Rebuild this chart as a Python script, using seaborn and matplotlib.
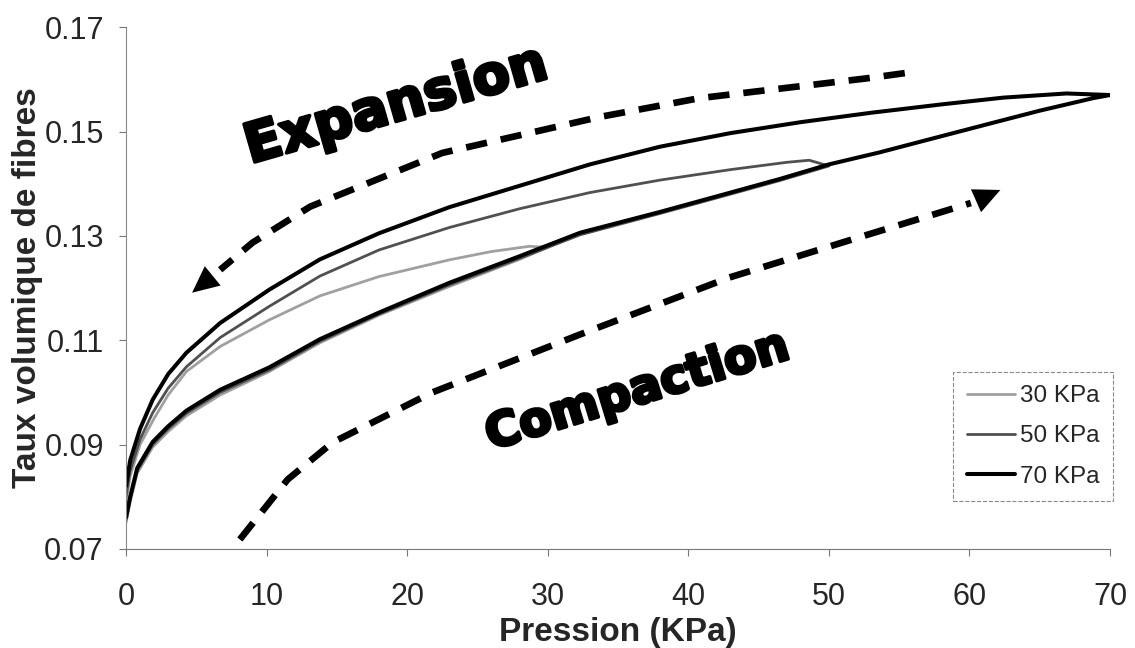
import matplotlib
matplotlib.use("Agg")
import matplotlib.pyplot as plt
import matplotlib.patheffects as pe
import seaborn as sns
import pandas as pd

# ---------------- data ----------------
series_names = ["30 KPa", "50 KPa", "70 KPa"]

# 30 KPa cycle
load_P_30 = [0, 0.3, 0.8, 1.9, 3, 4.3, 6.7, 10.2, 13.8, 18, 23, 28, 30]
load_V_30 = [0.075, 0.079, 0.0845, 0.0895, 0.0925, 0.0955, 0.0995, 0.1040, 0.1095, 0.1148, 0.1203, 0.1255, 0.1278]
unload_P_30 = [0, 0.3, 1, 2, 3, 4.3, 6.7, 10.2, 13.8, 18, 23, 26, 28.7, 30]
unload_V_30 = [0.079, 0.084, 0.090, 0.095, 0.0995, 0.1040, 0.1088, 0.1139, 0.1185, 0.1222, 0.1254, 0.1270, 0.1280, 0.1278]

# 50 KPa cycle
load_P_50 = [0, 0.3, 0.8, 1.9, 3, 4.3, 6.7, 10.2, 13.8, 18, 23, 28, 32.3, 38, 43, 46.5, 50]
load_V_50 = [0.0755, 0.0795, 0.085, 0.090, 0.093, 0.096, 0.1000, 0.1043, 0.1098, 0.1150, 0.1206, 0.1257, 0.1302, 0.1343, 0.1380, 0.1406, 0.1434]
unload_P_50 = [0, 0.3, 1, 1.9, 3, 4.3, 6.7, 10.2, 13.8, 18, 23, 28, 33, 38, 43, 47, 48.6, 50]
unload_V_50 = [0.080, 0.085, 0.091, 0.0961, 0.1008, 0.1049, 0.1105, 0.1165, 0.1223, 0.1273, 0.1316, 0.1352, 0.1383, 0.1407, 0.1427, 0.1441, 0.1445, 0.1434]

# 70 KPa cycle
load_P_70 = [0, 0.3, 0.8, 1.9, 3, 4.3, 6.7, 10.2, 13.8, 18, 23, 28, 32.3, 38, 43, 46.5, 50, 53.6, 57, 61.7, 65, 68.8, 70]
load_V_70 = [0.076, 0.080, 0.0855, 0.0905, 0.0935, 0.0965, 0.1005, 0.1048, 0.1102, 0.1153, 0.1210, 0.1261, 0.1306, 0.1346, 0.1383, 0.1409, 0.1437, 0.1460, 0.1484, 0.1517, 0.1540, 0.1564, 0.1570]
unload_P_70 = [0, 0.3, 1, 1.9, 3, 4.3, 6.7, 10.2, 13.8, 18, 23, 28, 33, 38, 43, 48, 53, 58, 62.4, 66.9, 70]
unload_V_70 = [0.082, 0.087, 0.093, 0.0986, 0.1035, 0.1076, 0.1133, 0.1197, 0.1255, 0.1305, 0.1355, 0.1396, 0.1437, 0.1471, 0.1497, 0.1518, 0.1536, 0.1552, 0.1565, 0.1573, 0.1570]

# annotation arrows (dashed guides)
expansion_arrow_P = [55.4, 52.7, 40.8, 33.7, 22.5, 13.1, 9.0, 6.7, 4.7]
expansion_arrow_V = [0.1612, 0.1602, 0.1564, 0.1528, 0.1459, 0.1356, 0.1287, 0.1235, 0.1191]
compaction_arrow_P = [8.1, 11.5, 14.7, 21.8, 32.3, 42.9, 52.0, 60.1, 62.2]
compaction_arrow_V = [0.0718, 0.0833, 0.0904, 0.1000, 0.1111, 0.1220, 0.1296, 0.1363, 0.1388]

x_ticks = [0, 10, 20, 30, 40, 50, 60, 70]
y_ticks = [0.07, 0.09, 0.11, 0.13, 0.15, 0.17]
y_tick_labels = ["0.07", "0.09", "0.11", "0.13", "0.15", "0.17"]

# ---------------- build frame ----------------
cycles = {
    "30 KPa": (load_P_30, load_V_30, unload_P_30, unload_V_30),
    "50 KPa": (load_P_50, load_V_50, unload_P_50, unload_V_50),
    "70 KPa": (load_P_70, load_V_70, unload_P_70, unload_V_70),
}
rows = []
for name, (lp, lv, up, uv) in cycles.items():
    path_p = list(lp) + list(reversed(up))
    path_v = list(lv) + list(reversed(uv))
    for i, (p, v) in enumerate(zip(path_p, path_v)):
        rows.append({"Pression": p, "Taux": v, "Serie": name, "order": i})
df = pd.DataFrame(rows)

styles = {
    "30 KPa": dict(color="#a0a0a0", lw=2.0),
    "50 KPa": dict(color="#505050", lw=2.0),
    "70 KPa": dict(color="#000000", lw=2.9),
}

sns.set_theme(style="white")
plt.rcParams["font.family"] = ["Liberation Sans", "DejaVu Sans"]

fig = plt.figure(figsize=(11.35, 6.48), dpi=100)
ax = fig.add_axes([0.111, 0.153, 0.867, 0.805])

for name in series_names:
    sub = df[df["Serie"] == name].sort_values("order")
    sns.lineplot(data=sub, x="Pression", y="Taux", sort=False, estimator=None,
                 ax=ax, label=name, color=styles[name]["color"],
                 linewidth=styles[name]["lw"])

# dashed guide arrows
for P, V in [(expansion_arrow_P, expansion_arrow_V), (compaction_arrow_P, compaction_arrow_V)]:
    ax.plot(P[:-1], V[:-1], color="black", lw=4.8, linestyle=(0, (3.2, 2.1)),
            solid_capstyle="butt", dash_capstyle="butt", zorder=3)
    ax.annotate("", xy=(P[-1], V[-1]), xytext=(P[-2], V[-2]),
                arrowprops=dict(arrowstyle="-|>,head_length=1.6,head_width=0.75",
                                color="black", lw=0, shrinkA=0, shrinkB=0),
                zorder=4)

heavy = [pe.withStroke(linewidth=2.5, foreground="black")]
ax.text(19.2, 0.1549, "Expansion", rotation=16, ha="center", va="center",
        fontsize=39, fontweight="bold", family=["DejaVu Sans"],
        color="black", path_effects=heavy)
ax.text(36.4, 0.1001, "Compaction", rotation=17, ha="center", va="center",
        fontsize=34, fontweight="bold", family=["DejaVu Sans"],
        color="black", path_effects=heavy)

ax.set_xlim(0, 70)
ax.set_ylim(0.07, 0.17)
ax.set_xticks(x_ticks)
ax.set_xticklabels([str(t) for t in x_ticks])
ax.set_yticks(y_ticks)
ax.set_yticklabels(y_tick_labels)
ax.tick_params(axis="both", labelsize=22, length=5, width=0.8, color="#777777",
               direction="out", bottom=True, left=True)
ax.tick_params(axis="y", pad=11)
ax.tick_params(axis="x", pad=19)
ax.set_xlabel("Pression (KPa)", fontsize=24, fontweight="bold", va="center")
ax.set_ylabel("Taux volumique de fibres", fontsize=24, fontweight="bold", va="center")
ax.xaxis.set_label_coords(0.5, -0.160)
ax.yaxis.set_label_coords(-0.100, 0.5)

for s in ["top", "right"]:
    ax.spines[s].set_visible(False)
ax.spines["left"].set_color("#888888")
ax.spines["bottom"].set_color("#777777")
ax.spines["left"].set_linewidth(0.8)
ax.spines["bottom"].set_linewidth(0.8)
ax.grid(False)

leg = ax.legend(loc="lower right", bbox_to_anchor=(1113 / 1135, 1 - 501 / 648),
                bbox_transform=fig.transFigure, fontsize=17.5, frameon=True,
                fancybox=False, framealpha=1, edgecolor="#888888",
                handlelength=2.0, handletextpad=0.2, borderpad=0.55,
                labelspacing=0.75, borderaxespad=0)
leg.get_frame().set_linestyle("--")
leg.get_frame().set_linewidth(0.8)

fig.savefig("out.png", dpi=100)
